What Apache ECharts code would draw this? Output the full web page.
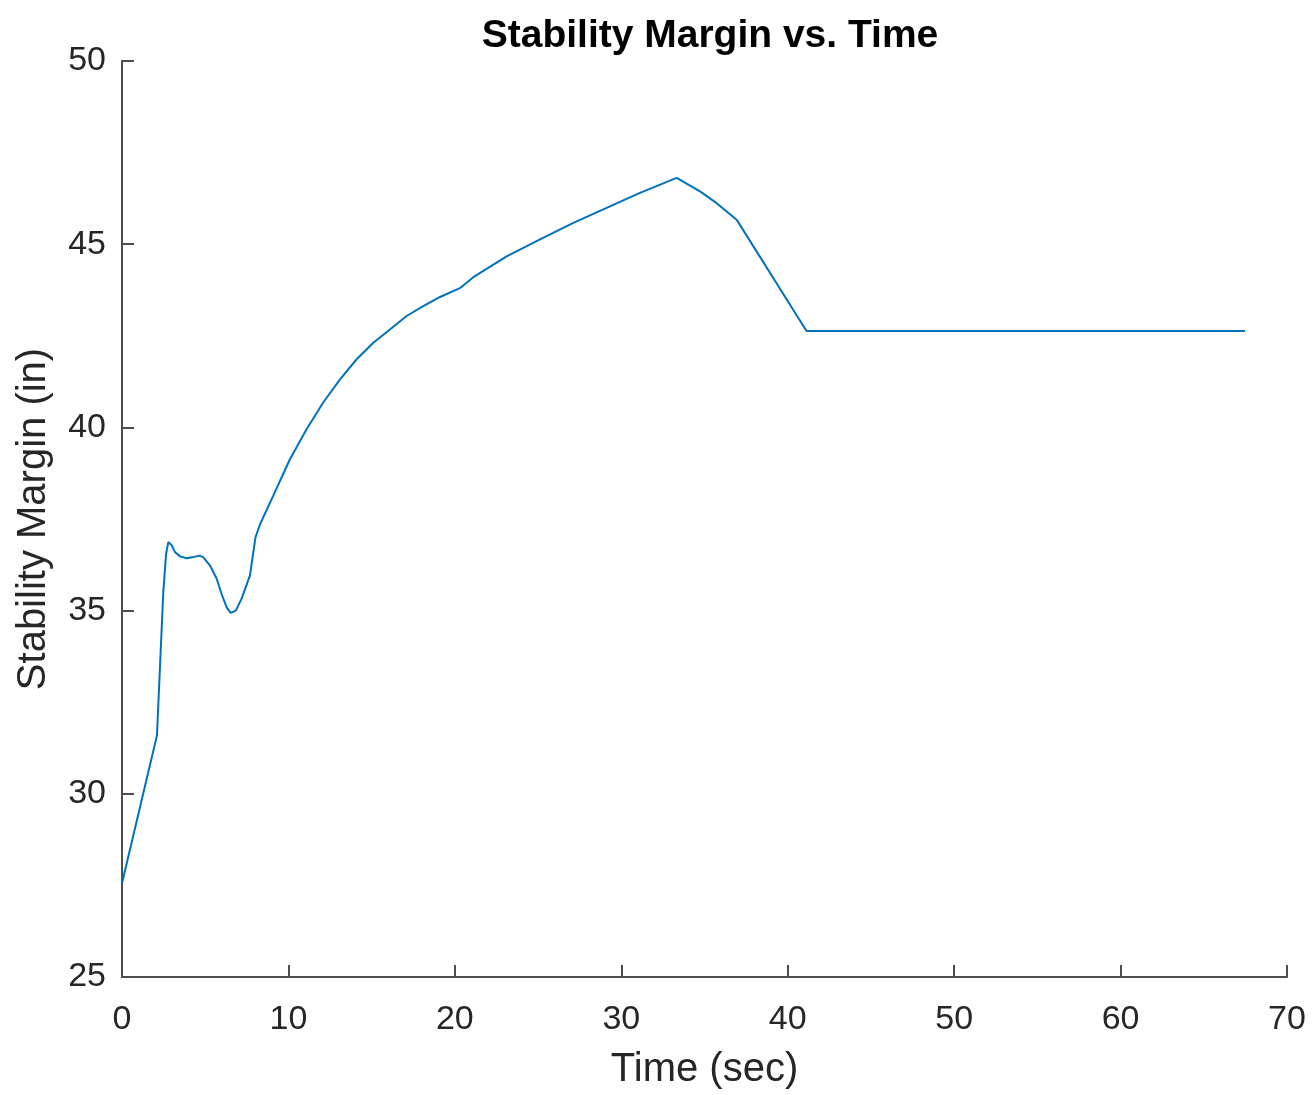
<!DOCTYPE html>
<html>
<head>
<meta charset="utf-8">
<script src="https://cdn.jsdelivr.net/npm/echarts@6/dist/echarts.min.js"></script>
<style>html,body{margin:0;padding:0;background:#fff;}#chart{width:1313px;height:1095px;}</style>
</head>
<body>
<div id="chart"></div>
<script>
const timeSec = [0, 2.1, 2.48, 2.65, 2.78, 2.99, 3.19, 3.49, 3.88, 4.28, 4.64, 4.88, 5.29, 5.69, 5.98, 6.29, 6.53, 6.84, 7.18, 7.69, 8.02, 8.29, 9.09, 10.09, 11.09, 12.09, 13.10, 14.10, 15.10, 16.10, 17.10, 18.10, 19.11, 20.3, 21.11, 23.11, 25.12, 27.12, 29.12, 31.12, 33.33, 34.73, 35.73, 36.93, 41.13, 67.48];
const margin = [27.56, 31.59, 35.50, 36.55, 36.87, 36.78, 36.59, 36.48, 36.43, 36.46, 36.50, 36.46, 36.23, 35.87, 35.46, 35.09, 34.94, 35.00, 35.32, 35.96, 37.00, 37.35, 38.14, 39.13, 39.95, 40.68, 41.31, 41.86, 42.31, 42.67, 43.04, 43.31, 43.56, 43.80, 44.10, 44.67, 45.13, 45.58, 45.99, 46.40, 46.81, 46.44, 46.12, 45.67, 42.63, 42.63];
const xTicks = [0, 10, 20, 30, 40, 50, 60, 70];
const yTicks = [25, 30, 35, 40, 45, 50];

const pts = timeSec.map((t, i) => [t, margin[i]]);
const chart = echarts.init(document.getElementById('chart'));
const txt = '#262626';
const axisCol = '#4d4d4d';
const font = 'Liberation Sans, Arial';
chart.setOption({
  animation: false,
  backgroundColor: '#fff',
  title: {
    text: 'Stability Margin vs. Time',
    left: 705, top: 12, textAlign: 'center',
    textStyle: {fontFamily: font, fontWeight: 'bold', fontSize: 39, color: '#000'}
  },
  grid: {left: 122, right: 26, top: 61, bottom: 116, containLabel: false},
  xAxis: {
    type: 'value', min: xTicks[0], max: xTicks[xTicks.length - 1], interval: 10,
    name: 'Time (sec)', nameLocation: 'middle', nameGap: 73,
    nameTextStyle: {fontFamily: font, fontSize: 40, color: txt},
    axisLine: {show: true, lineStyle: {color: axisCol, width: 2}},
    axisTick: {show: true, inside: true, length: 12, lineStyle: {color: axisCol, width: 2}},
    axisLabel: {fontFamily: font, fontSize: 34, color: txt, margin: 26},
    splitLine: {show: false}
  },
  yAxis: {
    type: 'value', min: yTicks[0], max: yTicks[yTicks.length - 1], interval: 5,
    name: 'Stability Margin (in)', nameLocation: 'middle', nameGap: 68,
    nameTextStyle: {fontFamily: font, fontSize: 40, color: txt},
    axisLine: {show: true, lineStyle: {color: axisCol, width: 2}},
    axisTick: {show: true, inside: true, length: 12, lineStyle: {color: axisCol, width: 2}},
    axisLabel: {fontFamily: font, fontSize: 34, color: txt, margin: 16},
    splitLine: {show: false}
  },
  series: [{
    type: 'line', data: pts, showSymbol: false, smooth: false,
    lineStyle: {color: '#0072BD', width: 2},
    itemStyle: {color: '#0072BD'}
  }]
});
</script>
</body>
</html>
